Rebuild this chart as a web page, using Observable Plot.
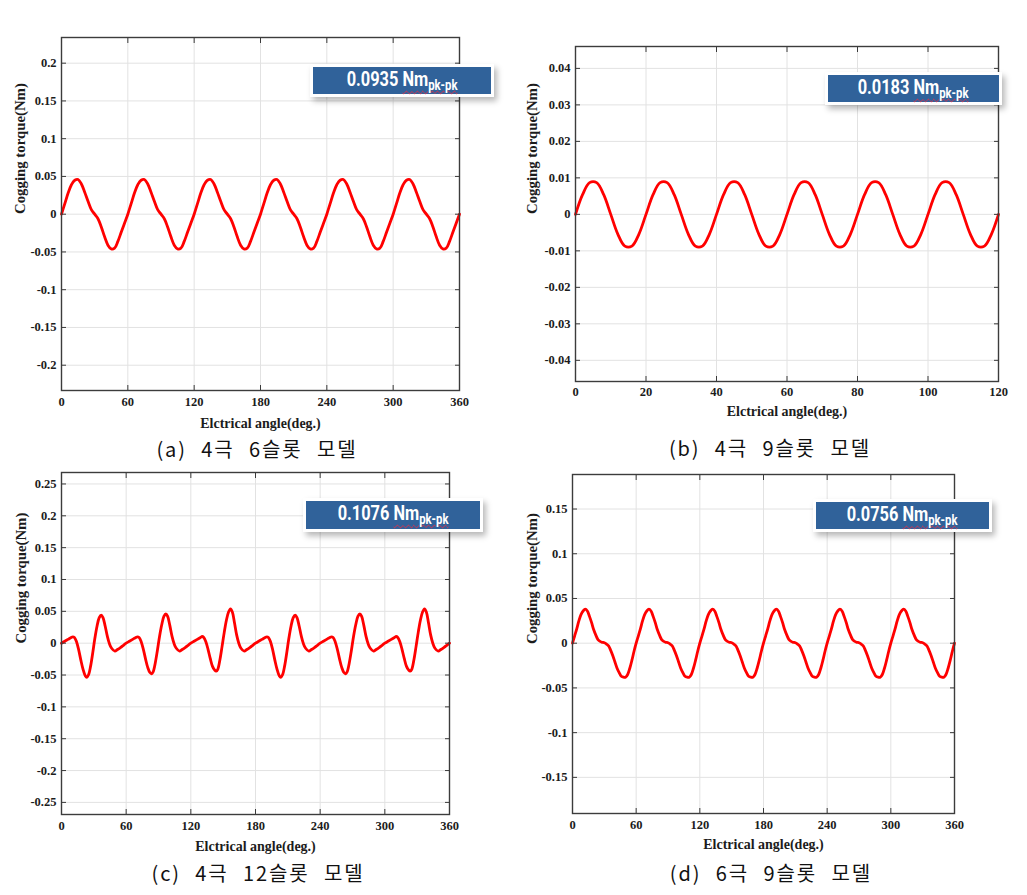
<!DOCTYPE html>
<html>
<head>
<meta charset="utf-8">
<script src="https://cdn.jsdelivr.net/npm/d3@7"></script>
<script src="https://cdn.jsdelivr.net/npm/@observablehq/plot@0.6"></script>
<style>
  html, body { margin: 0; padding: 0; background: #ffffff; }
  #fig { position: relative; width: 1027px; height: 895px; overflow: hidden; background: #ffffff; }
  .panel { position: absolute; }
  .panel svg { overflow: visible; }
  .cap {
    position: absolute; transform: translate(-50%, -50%);
    font-family: "Noto Sans CJK KR", "Noto Sans", sans-serif; font-size: 20px; font-weight: 400;
    letter-spacing: 1.9px; word-spacing: 8px; color: #111111; white-space: pre; line-height: 1;
  }
  .badge {
    position: absolute; background: #30629a; color: #ffffff;
    box-shadow: 0 0 0 3px #ffffff, 3px 4px 6px 3px rgba(0,0,0,0.28);
    display: flex; align-items: center; justify-content: center;
    font-family: "Roboto", "Liberation Sans", sans-serif;
    font-weight: bold; font-size: 21px; line-height: 1; white-space: pre;
  }
  .badge .t { display: inline-block; transform: scaleX(0.78); transform-origin: 50% 50%; margin-top: 1px; }
  .badge .u { text-decoration: underline wavy #e0304a 1px; text-underline-offset: 4px; }
  .badge sub { font-size: 14.5px; vertical-align: -4px; }
</style>
</head>
<body>
<div id="fig"></div>
<script>
// ---------------- data ----------------
const captions = ["(a) 4극 6슬롯 모델", "(b) 4극 9슬롯 모델", "(c) 4극 12슬롯 모델", "(d) 6극 9슬롯 모델"];
const badgeValues = ["0.0935", "0.0183", "0.1076", "0.0756"];
const badgeUnit = "Nm";
const badgeSub = "pk-pk";
const xLabel = "Elctrical angle(deg.)";
const yLabel = "Cogging torque(Nm)";

const xTicksA = [0, 60, 120, 180, 240, 300, 360];
const yTicksA = [-0.2, -0.15, -0.1, -0.05, 0, 0.05, 0.1, 0.15, 0.2];
const xTicksB = [0, 20, 40, 60, 80, 100, 120];
const yTicksB = [-0.04, -0.03, -0.02, -0.01, 0, 0.01, 0.02, 0.03, 0.04];
const xTicksC = [0, 60, 120, 180, 240, 300, 360];
const yTicksC = [-0.25, -0.2, -0.15, -0.1, -0.05, 0, 0.05, 0.1, 0.15, 0.2, 0.25];
const xTicksD = [0, 60, 120, 180, 240, 300, 360];
const yTicksD = [-0.15, -0.1, -0.05, 0, 0.05, 0.1, 0.15];

// (a) 4-pole 6-slot, sampled every 3 deg from 0 to 360
const stepA = 3;
const torqueA = [
  0.000, 0.014, 0.028, 0.039, 0.045, 0.046, 0.040, 0.029, 0.017, 0.006, 0.000, -0.006, -0.017, -0.030, -0.041, -0.046, -0.045, -0.036, -0.024, -0.012,
  0.000, 0.014, 0.028, 0.039, 0.045, 0.046, 0.040, 0.029, 0.017, 0.006, 0.000, -0.006, -0.017, -0.030, -0.041, -0.046, -0.045, -0.036, -0.024, -0.012,
  0.000, 0.014, 0.028, 0.039, 0.045, 0.046, 0.040, 0.029, 0.017, 0.006, 0.000, -0.006, -0.017, -0.030, -0.041, -0.046, -0.045, -0.036, -0.024, -0.012,
  0.000, 0.014, 0.028, 0.039, 0.045, 0.046, 0.040, 0.029, 0.017, 0.006, 0.000, -0.006, -0.017, -0.030, -0.041, -0.046, -0.045, -0.036, -0.024, -0.012,
  0.000, 0.014, 0.028, 0.039, 0.045, 0.046, 0.040, 0.029, 0.017, 0.006, 0.000, -0.006, -0.017, -0.030, -0.041, -0.046, -0.045, -0.036, -0.024, -0.012,
  0.000, 0.014, 0.028, 0.039, 0.045, 0.046, 0.040, 0.029, 0.017, 0.006, 0.000, -0.006, -0.017, -0.030, -0.041, -0.046, -0.045, -0.036, -0.024, -0.012,
  0.000
];

// (b) 4-pole 9-slot, sampled every 2 deg from 0 to 120
const stepB = 2;
const torqueB = [
  0, 0.0054, 0.0087, 0.0087, 0.0054, 0, -0.0054, -0.0087, -0.0087, -0.0054,
  0, 0.0054, 0.0087, 0.0087, 0.0054, 0, -0.0054, -0.0087, -0.0087, -0.0054,
  0, 0.0054, 0.0087, 0.0087, 0.0054, 0, -0.0054, -0.0087, -0.0087, -0.0054,
  0, 0.0054, 0.0087, 0.0087, 0.0054, 0, -0.0054, -0.0087, -0.0087, -0.0054,
  0, 0.0054, 0.0087, 0.0087, 0.0054, 0, -0.0054, -0.0087, -0.0087, -0.0054,
  0, 0.0054, 0.0087, 0.0087, 0.0054, 0, -0.0054, -0.0087, -0.0087, -0.0054,
  0
];

// (c) 4-pole 12-slot, read at the curve's turning points
const angleC = [
  0, 3, 6, 9, 10.5, 12, 14, 16, 18, 20, 22, 23.5, 25, 27, 29, 31, 33, 35, 36.8, 38.5, 40.5, 42.5, 44.5, 46.5, 49.5, 52, 55, 58,
  60, 63, 66, 69, 70.5, 72, 74, 76, 78, 80, 82, 83.5, 85, 87, 89, 91, 93, 95, 96.8, 98.5, 100.5, 102.5, 104.5, 106.5, 109.5, 112, 115, 118,
  120, 123, 126, 129, 130.5, 132, 134, 136, 138, 140, 142, 143.5, 145, 147, 149, 151, 153, 155, 156.8, 158.5, 160.5, 162.5, 164.5, 166.5, 169.5, 172, 175, 178,
  180, 183, 186, 189, 190.5, 192, 194, 196, 198, 200, 202, 203.5, 205, 207, 209, 211, 213, 215, 216.8, 218.5, 220.5, 222.5, 224.5, 226.5, 229.5, 232, 235, 238,
  240, 243, 246, 249, 250.5, 252, 254, 256, 258, 260, 262, 263.5, 265, 267, 269, 271, 273, 275, 276.8, 278.5, 280.5, 282.5, 284.5, 286.5, 289.5, 292, 295, 298,
  300, 303, 306, 309, 310.5, 312, 314, 316, 318, 320, 322, 323.5, 325, 327, 329, 331, 333, 335, 336.8, 338.5, 340.5, 342.5, 344.5, 346.5, 349.5, 352, 355, 358,
  360
];
const torqueC = [
  0.000, 0.003, 0.006, 0.009, 0.010, 0.009, 0.002, -0.011, -0.027, -0.041, -0.051, -0.0535, -0.050, -0.036, -0.015, 0.008, 0.027, 0.040, 0.044, 0.040, 0.027, 0.011, -0.001, -0.008, -0.0125, -0.010, -0.0065, -0.0025,
  0.000, 0.003, 0.006, 0.009, 0.010, 0.009, 0.002, -0.010, -0.025, -0.038, -0.046, -0.048, -0.045, -0.031, -0.011, 0.011, 0.029, 0.042, 0.046, 0.042, 0.028, 0.011, -0.001, -0.008, -0.0125, -0.010, -0.0065, -0.0025,
  0.000, 0.003, 0.006, 0.009, 0.0105, 0.009, 0.002, -0.010, -0.024, -0.036, -0.042, -0.044, -0.041, -0.026, -0.005, 0.017, 0.036, 0.049, 0.054, 0.049, 0.032, 0.013, 0.000, -0.008, -0.0125, -0.010, -0.0065, -0.0025,
  0.000, 0.003, 0.006, 0.009, 0.010, 0.009, 0.002, -0.011, -0.027, -0.041, -0.051, -0.0535, -0.050, -0.036, -0.015, 0.008, 0.027, 0.040, 0.044, 0.040, 0.027, 0.011, -0.001, -0.008, -0.0125, -0.010, -0.0065, -0.0025,
  0.000, 0.003, 0.006, 0.009, 0.010, 0.009, 0.002, -0.010, -0.025, -0.038, -0.046, -0.048, -0.045, -0.031, -0.011, 0.011, 0.029, 0.042, 0.046, 0.042, 0.028, 0.011, -0.001, -0.008, -0.0125, -0.010, -0.0065, -0.0025,
  0.000, 0.003, 0.006, 0.009, 0.0105, 0.009, 0.002, -0.010, -0.024, -0.036, -0.042, -0.044, -0.041, -0.026, -0.005, 0.017, 0.036, 0.049, 0.054, 0.049, 0.032, 0.013, 0.000, -0.008, -0.0125, -0.010, -0.0065, -0.0025,
  0.000
];

// (d) 6-pole 9-slot, sampled every 2 deg from 0 to 360
const stepD = 2;
const torqueD = [
  0, 0.008, 0.016, 0.025, 0.032, 0.036, 0.038, 0.036, 0.030, 0.023, 0.015, 0.009, 0.004, 0.002, 0.001, 0.0005, -0.001, -0.003, -0.008, -0.014, -0.021, -0.028, -0.033, -0.037, -0.038, -0.038, -0.035, -0.028, -0.019, -0.009,
  0, 0.008, 0.016, 0.025, 0.032, 0.036, 0.038, 0.036, 0.030, 0.023, 0.015, 0.009, 0.004, 0.002, 0.001, 0.0005, -0.001, -0.003, -0.008, -0.014, -0.021, -0.028, -0.033, -0.037, -0.038, -0.038, -0.035, -0.028, -0.019, -0.009,
  0, 0.008, 0.016, 0.025, 0.032, 0.036, 0.038, 0.036, 0.030, 0.023, 0.015, 0.009, 0.004, 0.002, 0.001, 0.0005, -0.001, -0.003, -0.008, -0.014, -0.021, -0.028, -0.033, -0.037, -0.038, -0.038, -0.035, -0.028, -0.019, -0.009,
  0, 0.008, 0.016, 0.025, 0.032, 0.036, 0.038, 0.036, 0.030, 0.023, 0.015, 0.009, 0.004, 0.002, 0.001, 0.0005, -0.001, -0.003, -0.008, -0.014, -0.021, -0.028, -0.033, -0.037, -0.038, -0.038, -0.035, -0.028, -0.019, -0.009,
  0, 0.008, 0.016, 0.025, 0.032, 0.036, 0.038, 0.036, 0.030, 0.023, 0.015, 0.009, 0.004, 0.002, 0.001, 0.0005, -0.001, -0.003, -0.008, -0.014, -0.021, -0.028, -0.033, -0.037, -0.038, -0.038, -0.035, -0.028, -0.019, -0.009,
  0, 0.008, 0.016, 0.025, 0.032, 0.036, 0.038, 0.036, 0.030, 0.023, 0.015, 0.009, 0.004, 0.002, 0.001, 0.0005, -0.001, -0.003, -0.008, -0.014, -0.021, -0.028, -0.033, -0.037, -0.038, -0.038, -0.035, -0.028, -0.019, -0.009,
  0
];

// ---------------- layout ----------------
const panels = [
  { angles: torqueA.map((_, i) => i * stepA), torque: torqueA, xDomain: [0, 360], yDomain: [-0.2335, 0.234], xTicks: xTicksA, yTicks: yTicksA,
    left: 0, top: 0, width: 500, height: 440, mL: 61, mR: 41, mT: 37, mB: 50, yDx: -41, xDy: 33, pad: 7,
    cap: [257, 449], badge: [313, 67, 178, 27] },
  { angles: torqueB.map((_, i) => i * stepB), torque: torqueB, xDomain: [0, 120], yDomain: [-0.0458, 0.046], xTicks: xTicksB, yTicks: yTicksB,
    left: 510, top: 0, width: 517, height: 440, mL: 65, mR: 29, mT: 46, mB: 59, yDx: -43, xDy: 30, pad: 6,
    cap: [770, 448], badge: [828, 75, 171, 27] },
  { angles: angleC, torque: torqueC, xDomain: [0, 360], yDomain: [-0.269, 0.268], xTicks: xTicksC, yTicks: yTicksC,
    left: 0, top: 455, width: 500, height: 440, mL: 61, mR: 51, mT: 17, mB: 81, yDx: -40, xDy: 32, pad: 6.5,
    cap: [258, 873], badge: [306, 501, 174, 28] },
  { angles: torqueD.map((_, i) => i * stepD), torque: torqueD, xDomain: [0, 360], yDomain: [-0.1904, 0.1886], xTicks: xTicksD, yTicks: yTicksD,
    left: 510, top: 455, width: 517, height: 440, mL: 62, mR: 73, mT: 19, mB: 82, yDx: -40, xDy: 31, pad: 6.5,
    cap: [771, 873], badge: [816, 502, 173, 27] }
];

const fig = document.getElementById("fig");
const fmt = d => String(d);
const blank = () => "";
const tickStroke = "#3a3a3a";

panels.forEach((p, idx) => {
  const data = p.angles.map((a, i) => ({ angle: a, torque: p.torque[i] }));
  const chart = Plot.plot({
    width: p.width,
    height: p.height,
    marginLeft: p.mL, marginRight: p.mR, marginTop: p.mT, marginBottom: p.mB,
    x: { domain: p.xDomain, label: null },
    y: { domain: p.yDomain, label: null },
    style: {
      background: "transparent",
      fontFamily: '"Liberation Serif", "Times New Roman", serif',
      fontWeight: "bold",
      fontSize: "12.5px",
      color: "#1c1c1c"
    },
    marks: [
      Plot.gridX(p.xTicks, { stroke: "#e2e2e2", strokeOpacity: 1, strokeWidth: 1 }),
      Plot.gridY(p.yTicks, { stroke: "#e2e2e2", strokeOpacity: 1, strokeWidth: 1 }),
      Plot.line(data, { x: "angle", y: "torque", stroke: "#ff0000", strokeWidth: 2.8, curve: "catmull-rom" }),
      Plot.frame({ stroke: "#3c3c3c", strokeWidth: 1.4 }),
      // inward tick marks on all four sides
      Plot.axisX(p.xTicks, { anchor: "bottom", tickSize: 5, dy: -5, tickFormat: blank, label: null, stroke: tickStroke }),
      Plot.axisX(p.xTicks, { anchor: "top", tickSize: 5, dy: 5, tickFormat: blank, label: null, stroke: tickStroke }),
      Plot.axisY(p.yTicks, { anchor: "left", tickSize: 5, dx: 5, tickFormat: blank, label: null, stroke: tickStroke }),
      Plot.axisY(p.yTicks, { anchor: "right", tickSize: 5, dx: -5, tickFormat: blank, label: null, stroke: tickStroke }),
      // tick labels
      Plot.axisX(p.xTicks, { anchor: "bottom", tickSize: 0, tickPadding: p.pad, tickFormat: fmt, label: null, fontSize: 12.5 }),
      Plot.axisY(p.yTicks, { anchor: "left", tickSize: 0, tickPadding: 5, tickFormat: fmt, label: null, fontSize: 12.5 }),
      // axis titles
      Plot.text([xLabel], { frameAnchor: "bottom", dy: p.xDy, text: d => d, fontSize: 14, lineAnchor: "middle", fill: "#1c1c1c" }),
      Plot.text([yLabel], { frameAnchor: "left", dx: p.yDx, rotate: -90, text: d => d, fontSize: 14.8, lineAnchor: "middle", fill: "#1c1c1c" })
    ]
  });
  const holder = document.createElement("div");
  holder.className = "panel";
  holder.style.left = p.left + "px";
  holder.style.top = p.top + "px";
  holder.appendChild(chart);
  fig.appendChild(holder);

  // value badge
  const b = document.createElement("div");
  b.className = "badge";
  b.style.left = p.badge[0] + "px";
  b.style.top = p.badge[1] + "px";
  b.style.width = p.badge[2] + "px";
  b.style.height = p.badge[3] + "px";
  const t = document.createElement("span");
  t.className = "t";
  const v = document.createElement("span");
  v.textContent = badgeValues[idx] + " ";
  const u = document.createElement("span");
  u.className = "u";
  u.textContent = badgeUnit;
  const s = document.createElement("sub");
  s.textContent = badgeSub;
  u.appendChild(s);
  t.appendChild(v);
  t.appendChild(u);
  b.appendChild(t);
  fig.appendChild(b);

  // caption
  const c = document.createElement("div");
  c.className = "cap";
  c.style.left = p.cap[0] + "px";
  c.style.top = p.cap[1] + "px";
  c.textContent = captions[idx];
  fig.appendChild(c);
});
</script>
</body>
</html>
